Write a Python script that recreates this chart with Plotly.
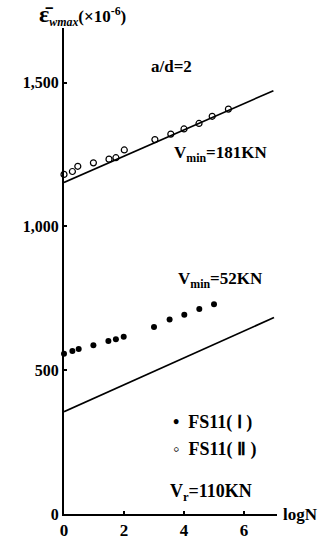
import plotly.graph_objects as go

# FS11(I) filled dots (lower series)
logn_I = [0, 0.28, 0.49, 0.98, 1.48, 1.73, 1.99, 3.0, 3.52, 4.01, 4.51, 5.0]
eps_I = [557, 567, 574, 587, 602, 608, 616, 650, 676, 693, 713, 729]

# FS11(II) open circles (upper series)
logn_II = [0, 0.28, 0.46, 0.98, 1.5, 1.73, 2.01, 3.03, 3.56, 4.0, 4.5, 4.94, 5.48]
eps_II = [1181, 1191, 1209, 1221, 1234, 1239, 1266, 1302, 1321, 1339, 1358, 1383, 1408]

# fitted lines
line_upper_x = [0, 6.98]
line_upper_y = [1153, 1472]
line_lower_x = [0, 7.0]
line_lower_y = [356, 683]

y_ticks = [0, 500, 1000, 1500]
y_ticklabels = ["0", "500", "1,000", "1,500"]
x_ticks = [0, 2, 4, 6]
x_ticklabels = ["0", "2", "4", "6"]

FONT = "Liberation Serif"

fig = go.Figure()
fig.add_trace(go.Scatter(x=line_upper_x, y=line_upper_y, mode="lines",
                         line=dict(color="black", width=1.7), cliponaxis=False))
fig.add_trace(go.Scatter(x=line_lower_x, y=line_lower_y, mode="lines",
                         line=dict(color="black", width=1.7), cliponaxis=False))
fig.add_trace(go.Scatter(x=logn_I, y=eps_I, mode="markers", cliponaxis=False,
                         marker=dict(symbol="circle", size=6, color="black")))
fig.add_trace(go.Scatter(x=logn_II, y=eps_II, mode="markers", cliponaxis=False,
                         marker=dict(symbol="circle-open", size=6, color="black",
                                     line=dict(width=1.2))))

def ann(text, px, py, size=17, **kw):
    # px, py: pixel position of the text's left edge / vertical centre
    d = dict(text=text, x=(px - 64) / 213, y=(530 - py) / 502,
             xref="paper", yref="paper", showarrow=False,
             xanchor="left", yanchor="middle",
             font=dict(family=FONT, size=size, color="black", weight="bold"))
    d.update(kw)
    fig.add_annotation(**d)

ann("a/d=2", 149, 68)
ann("V<sub>min</sub>=181KN", 172, 158)
ann("V<sub>min</sub>=52KN", 176, 288)
ann("•  FS11( Ⅰ )", 171, 435, size=18)
ann("◦  FS11( Ⅱ )", 171, 463, size=18)
ann("V<sub>r</sub>=110KN", 168, 508, size=18)
ann("logN", 281, 530)

ann("<span style='font-size:24px'>ε̄</span><sub><i>wmax</i></sub>(×10<sup>-6</sup>)",
    37, 15, size=17)

fig.update_layout(
    width=325, height=552,
    margin=dict(l=64, r=48, t=28, b=22, pad=0),
    paper_bgcolor="white", plot_bgcolor="white",
    showlegend=False,
    xaxis=dict(range=[0, 7.1], tickvals=x_ticks, ticktext=x_ticklabels,
               showgrid=False, zeroline=False, showline=True,
               linecolor="black", linewidth=2, ticks="inside", ticklen=3,
               tickwidth=1.5, tickcolor="black",
               tickfont=dict(family=FONT, size=17, color="black", weight="bold")),
    yaxis=dict(range=[0, 1690], tickvals=y_ticks, ticktext=y_ticklabels,
               showgrid=False, zeroline=False, showline=True,
               linecolor="black", linewidth=2, ticks="inside", ticklen=3,
               tickwidth=1.5, tickcolor="black",
               tickfont=dict(family=FONT, size=16, color="black", weight="bold")),
)

fig.write_html("out.html", config={"displayModeBar": False},
               post_script="document.body.style.margin='0';document.body.style.overflow='hidden';")
